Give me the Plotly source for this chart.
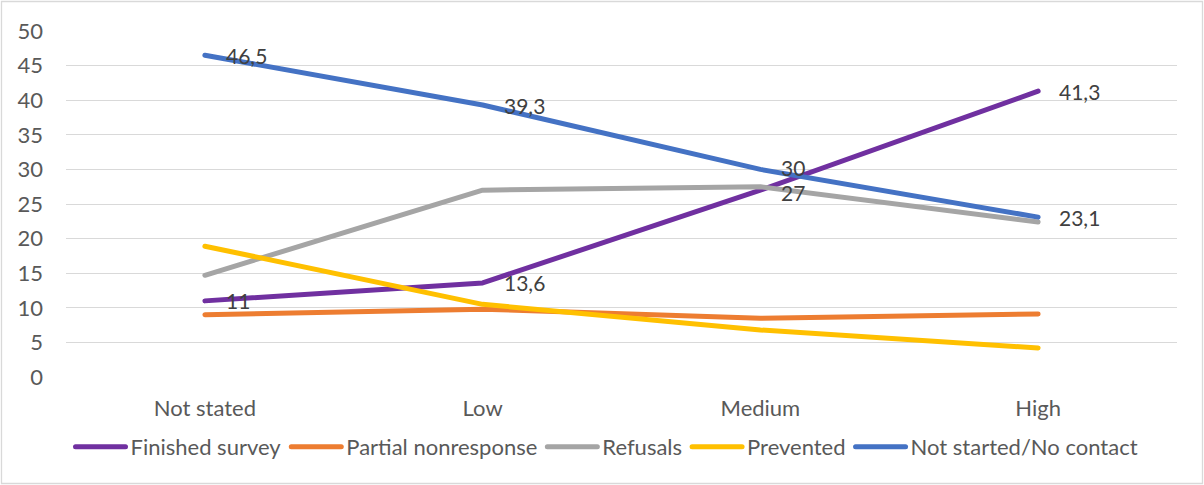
import plotly.graph_objects as go

# Categories and series (percent)
categories = ["Not stated", "Low", "Medium", "High"]
finished_survey = [11, 13.6, 27, 41.3]
partial_nonresponse = [9.0, 9.8, 8.5, 9.1]
refusals = [14.7, 27.0, 27.5, 22.4]
prevented = [18.9, 10.5, 6.8, 4.2]
not_started = [46.5, 39.3, 30, 23.1]

y_ticks = list(range(0, 51, 5))

series = [
    ("Finished survey", finished_survey, "#7030A0", True),
    ("Partial nonresponse", partial_nonresponse, "#ED7D31", False),
    ("Refusals", refusals, "#A5A5A5", False),
    ("Prevented", prevented, "#FFC000", False),
    ("Not started/No contact", not_started, "#4472C4", True),
]

FONT = "Lato"
FS = 22
W, H = 1204, 485
L, R, T, B = 66, 27, 31, 108

fig = go.Figure()
annotations = []
labelled_vals = [s[1] for s in series if s[3]]
for name, vals, color, labelled in series:
    fig.add_trace(go.Scatter(
        x=categories, y=vals, name=name, mode="lines",
        line=dict(color=color, width=5),
    ))
    if labelled:
        for i, (c, v) in enumerate(zip(categories, vals)):
            # nudge apart labels of points that sit close together
            others = [o[i] for o in labelled_vals if o is not vals]
            shift = 0
            for o in others:
                if abs(o - v) < 4:
                    shift = 2 if v > o else -2
            annotations.append(dict(
                x=c, y=v, xref="x", yref="y", text=f"{v:g}".replace(".", ","),
                showarrow=False, xanchor="left", yanchor="middle", xshift=20,
                yshift=shift, borderpad=0,
                font=dict(family=FONT, size=FS - 1, color="#404040"),
            ))

pw = W - L - R
ph = H - T - B
def px_x(p):
    return (p - L) / pw
def px_y(p):
    return (H - B - p) / ph

fig.update_layout(
    width=W, height=H,
    margin=dict(l=L, r=R, t=T, b=B),
    paper_bgcolor="white", plot_bgcolor="white",
    font=dict(family=FONT, size=FS, color="#595959"),
    annotations=annotations,
    showlegend=True,
    legend=dict(
        orientation="h", xanchor="center", yanchor="middle",
        x=px_x(607), y=px_y(447),
        font=dict(family=FONT, size=FS, color="#595959"),
        itemwidth=50, tracegroupgap=0,
    ),
    shapes=[dict(
        type="rect", xref="paper", yref="paper",
        x0=px_x(1.5), x1=px_x(W - 1.5), y0=px_y(H - 1.5), y1=px_y(1.5),
        line=dict(color="#D9D9D9", width=1.3), fillcolor="rgba(0,0,0,0)",
        layer="below",
    )],
    xaxis=dict(
        type="category", range=[-0.5, 3.5], showgrid=False, zeroline=False,
        showline=False, ticks="", ticklabelstandoff=16,
        tickfont=dict(family=FONT, size=FS, color="#595959"),
    ),
    yaxis=dict(
        range=[0, 50], tickvals=y_ticks, showgrid=True, gridcolor="#D9D9D9",
        gridwidth=1.3, zeroline=False, showline=False, ticks="",
        ticklabelstandoff=22,
        tickfont=dict(family=FONT, size=FS, color="#595959"),
    ),
)

# rounded line ends on the series and legend swatches
round_caps = """
var gd = document.querySelector('.plotly-graph-div');
function caps() {
  gd.querySelectorAll('path.js-line').forEach(function (p) {
    p.style.strokeLinecap = 'round';
    p.style.strokeLinejoin = 'round';
  });
}
caps();
gd.on('plotly_afterplot', caps);
"""

fig.write_html("out.html", post_script=round_caps)
